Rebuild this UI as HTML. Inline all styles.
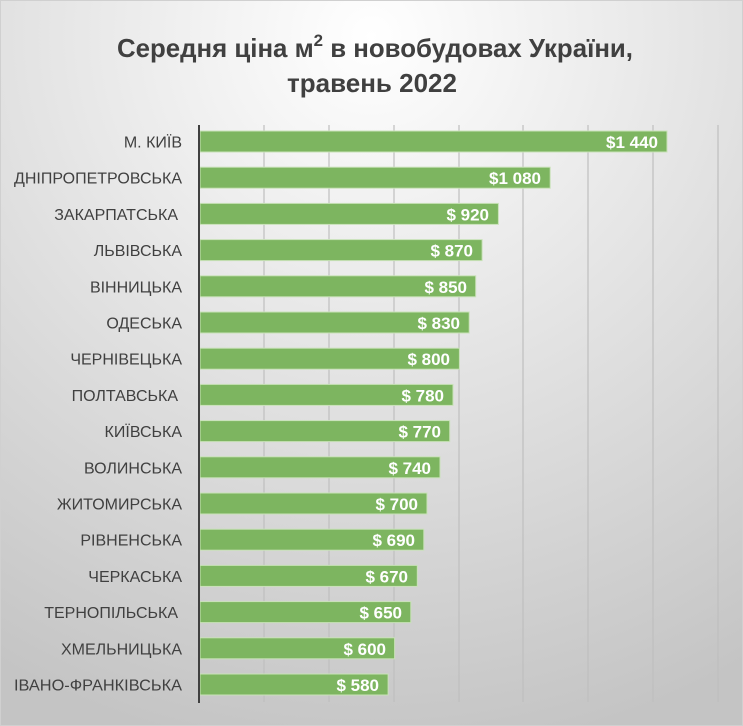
<!DOCTYPE html>
<html><head><meta charset="utf-8"><style>
html,body{margin:0;padding:0;width:743px;height:726px;overflow:hidden}
</style></head><body>
<svg width="743" height="726" xmlns="http://www.w3.org/2000/svg" font-family="'Liberation Sans', sans-serif">
<defs>
<radialGradient id="bg" cx="0.5" cy="0.05" r="1.0">
<stop offset="0" stop-color="#ffffff"/>
<stop offset="1" stop-color="#c4c4c4"/>
</radialGradient>
</defs>
<rect width="743" height="726" fill="url(#bg)"/>
<rect x="0.5" y="0.5" width="742" height="725" fill="none" stroke="#d0d0d0"/>
<text x="375" y="57" text-anchor="middle" font-size="26" font-weight="bold" fill="#404040" textLength="516" lengthAdjust="spacingAndGlyphs">Середня ціна м<tspan font-size="17" dy="-11">2</tspan><tspan dy="11"> в новобудовах України,</tspan></text>
<text x="372" y="92" text-anchor="middle" font-size="26" font-weight="bold" fill="#404040">травень 2022</text>
<g stroke="#bfbfbf" stroke-width="1.2">
<line x1="264" y1="125" x2="264" y2="702"/><line x1="329" y1="125" x2="329" y2="702"/>
<line x1="394" y1="125" x2="394" y2="702"/><line x1="459" y1="125" x2="459" y2="702"/>
<line x1="523" y1="125" x2="523" y2="702"/><line x1="588" y1="125" x2="588" y2="702"/>
<line x1="653" y1="125" x2="653" y2="702"/><line x1="718" y1="125" x2="718" y2="702"/>
</g>
<g fill="#7db560" stroke="#c9e2b8" stroke-width="1">
<rect x="200" y="131" width="467.0" height="21"/>
<rect x="200" y="167.2" width="350.2" height="21"/>
<rect x="200" y="203.4" width="298.4" height="21"/>
<rect x="200" y="239.6" width="282.1" height="21"/>
<rect x="200" y="275.8" width="275.7" height="21"/>
<rect x="200" y="312" width="269.2" height="21"/>
<rect x="200" y="348.2" width="259.4" height="21"/>
<rect x="200" y="384.4" width="253.0" height="21"/>
<rect x="200" y="420.6" width="249.7" height="21"/>
<rect x="200" y="456.8" width="240.0" height="21"/>
<rect x="200" y="493" width="227.0" height="21"/>
<rect x="200" y="529.2" width="223.8" height="21"/>
<rect x="200" y="565.4" width="217.3" height="21"/>
<rect x="200" y="601.6" width="210.8" height="21"/>
<rect x="200" y="637.8" width="194.6" height="21"/>
<rect x="200" y="674" width="188.1" height="21"/>
</g>
<g font-size="17" font-weight="bold" fill="#ffffff" text-anchor="end">
<text x="658" y="148">$1 440</text>
<text x="541" y="184.2">$1 080</text>
<text x="489" y="220.4">$ 920</text>
<text x="473" y="256.6">$ 870</text>
<text x="467" y="292.8">$ 850</text>
<text x="460" y="329">$ 830</text>
<text x="450" y="365.2">$ 800</text>
<text x="444" y="401.4">$ 780</text>
<text x="441" y="437.6">$ 770</text>
<text x="431" y="473.8">$ 740</text>
<text x="418" y="510">$ 700</text>
<text x="415" y="546.2">$ 690</text>
<text x="408" y="582.4">$ 670</text>
<text x="402" y="618.6">$ 650</text>
<text x="386" y="654.8">$ 600</text>
<text x="379" y="691">$ 580</text>
</g>
<g font-size="16" fill="#404040" text-anchor="end">
<text x="182" y="147.5">М. КИЇВ</text>
<text x="182" y="183.7" textLength="168" lengthAdjust="spacingAndGlyphs">ДНІПРОПЕТРОВСЬКА</text>
<text x="178" y="219.9">ЗАКАРПАТСЬКА</text>
<text x="182" y="256.1">ЛЬВІВСЬКА</text>
<text x="182" y="292.3">ВІННИЦЬКА</text>
<text x="182" y="328.5">ОДЕСЬКА</text>
<text x="182" y="364.7">ЧЕРНІВЕЦЬКА</text>
<text x="178" y="400.9">ПОЛТАВСЬКА</text>
<text x="182" y="437.1">КИЇВСЬКА</text>
<text x="182" y="473.3">ВОЛИНСЬКА</text>
<text x="182" y="509.5">ЖИТОМИРСЬКА</text>
<text x="182" y="545.7">РІВНЕНСЬКА</text>
<text x="182" y="581.9">ЧЕРКАСЬКА</text>
<text x="178" y="618.1">ТЕРНОПІЛЬСЬКА</text>
<text x="182" y="654.3">ХМЕЛЬНИЦЬКА</text>
<text x="182" y="690.5" textLength="168" lengthAdjust="spacingAndGlyphs">ІВАНО-ФРАНКІВСЬКА</text>
</g>
<line x1="199" y1="125" x2="199" y2="703" stroke="#404040" stroke-width="2"/>
</svg>
</body></html>
